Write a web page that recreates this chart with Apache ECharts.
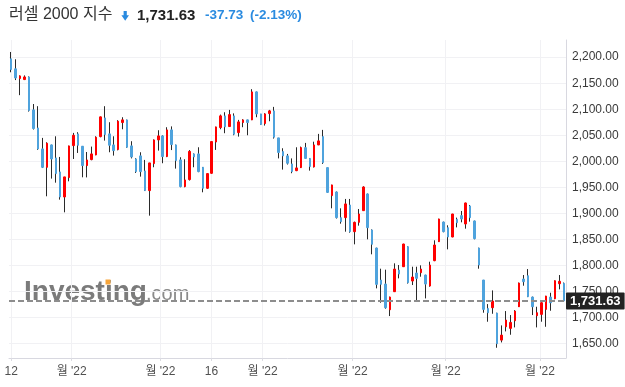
<!DOCTYPE html>
<html>
<head>
<meta charset="utf-8">
<script src="https://cdn.jsdelivr.net/npm/echarts@6/dist/echarts.min.js"></script>
<style>html,body{margin:0;padding:0;background:#fff}#c{width:625px;height:387px}</style>
</head>
<body>
<div id="c"></div>
<script>
const openVals = [2196.8,2177.6,2159,2157,2162,2098.7,2064,2023.7,1988.4,2031.4,
2006.4,1979.5,1931.4,1968.6,2030.1,2052.6,2028.9,1991.7,2003.2,2012.2,
2047.4,2083.3,2052.6,2031.4,2022.4,2074.4,2079.5,2029.5,2004.5,2010.3,
1981.4,1943.6,1995.5,2041,2048.7,2009,2060.3,2031.4,2002.6,1951.3,
1964.8,2014.1,2014.1,1988.5,1948.1,1976.9,2037,2064.7,2087.2,2066.7,
2087.2,2055.1,2074.4,2079.5,2079.5,2133.3,2091,2072.4,2091.6,2096.8,
2044.9,2018.6,2010.3,1994.9,1982,1987.8,2026.1,2005.5,1989.1,2031.4,
2047.4,1987.8,1934,1941,1891.7,1891.7,1916,1864.7,1882.7,1905.1,
1937.2,1868,1833.3,1771.8,1764.1,1714.7,1749.4,1791,1797.4,1835.9,
1769.9,1785.3,1785.9,1781.4,1760.3,1809,1845.5,1883.3,1872.4,1854.5,
1888.5,1895.5,1879.5,1914.1,1885.3,1833.3,1771.8,1717.3,1718.6,1708.3,
1656.4,1682,1678.9,1693.6,1720.5,1773.7,1780.1,1739.1,1703.2,1705.8,
1715.4,1739.1,1735.9,1764.7,1765.4];
const closeVals = [2176.3,2160,2164,2162,2097.4,2062.8,2023.7,1988.4,2034.6,2004.4,
1976.3,1931.4,1969.9,2029.5,2050,2030.7,1991.7,2002.5,2014.1,2046.2,
2085.3,2051.3,2030.8,2020.5,2077,2079.5,2026.9,2008.3,1980.1,1980.1,
1943.6,1996.8,2041,2048.7,2009,2060.3,2032.1,2001.3,1951.3,1964.1,
2019,2008.3,1980.1,1948.1,1976.3,2037.9,2066,2087.2,2066,2089.7,
2051.9,2075.6,2079.5,2074.4,2133.3,2091,2070.5,2091,2096.8,2046.2,
2016.9,2010.3,1996.2,1980.1,1987.2,2026.3,2005.5,1989.8,2031.4,2039.1,
1997.4,1940.2,1954.5,1891.7,1884,1918,1864.7,1882.7,1898.7,1950.6,
1872.4,1840.4,1763.5,1763.5,1718.6,1739.1,1792.9,1783.3,1841,1766.7,
1777.6,1775,1792.9,1764.1,1800.6,1839.1,1889.1,1864.7,1854.5,1898.7,
1882,1889.1,1919.9,1891.7,1851.3,1800.6,1715.4,1709,1731.4,1649.4,
1666,1694.9,1690.4,1712.2,1766,1768.6,1739.8,1720.5,1709,1728.2,
1741,1728.2,1770.5,1769.36,1731.63];
const lowVals = [2171,2156,2127,2156,2095.5,2061,2022,1987,1932.7,1966.7,
1958.9,1926.3,1901.9,1961.5,2004.4,2016,1969.2,1969,2001.9,2011.5,
2046,2039.7,2017.3,2010.9,2021,2061.5,2026,2005.5,1977.6,1970.5,
1943,1895.5,1988.5,2020.5,1996.2,2008,2021.5,1985.9,1950,1950,
1963,1988.5,1979,1940.4,1947,1976,2021.8,2061.5,2053.9,2066,
2050,2047.4,2065.4,2050,2079,2084.6,2070,2068.6,2076.9,2043.6,
2005.5,1984,1993.7,1977,1981,1987,2005,1982,1988,2031,
1994.9,1939,1909.6,1890,1880.1,1864.7,1862.8,1840.4,1876.3,1905,
1850,1821.2,1755.8,1728.2,1716.7,1702.6,1749,1775,1797,1765,
1762.2,1733.3,1778.2,1736.5,1759,1808,1845,1863.5,1830.8,1854,
1873,1882.7,1870.5,1884,1850,1793.6,1709,1691.7,1707,1641.7,
1651.9,1673.1,1666.7,1680.8,1720,1760.9,1739,1704.5,1680.8,1691.7,
1682,1712.8,1735,1753.9,1731];
const highVals = [2210,2196,2165,2165,2163,2110,2105.8,2044.9,2036.5,2032,
2048,2008.3,1970,2030,2054.5,2055.8,2029,2017.8,2028.2,2048,
2086,2105.8,2075,2048,2079,2084.6,2080,2038.5,2005.8,2017.3,
2002.6,1997,2042,2059.6,2050,2065.4,2067,2032,2007.7,2003.9,
2021.5,2015,2026.9,1989,1977,2038.5,2066.5,2089.7,2094.2,2098.7,
2092,2079.5,2080.8,2080,2138.5,2134,2091,2092.3,2098.7,2104.5,
2045,2025,2014.1,2005.5,2026.9,2028.2,2035.3,2006,2037.6,2052.6,
2060.3,1988,1955,1942,1909.6,1927.6,1927.6,1884,1908.3,1952,
1938,1869,1834,1793.6,1791.7,1740,1803.9,1800.6,1841.5,1836.5,
1797.4,1797.4,1800,1782,1807,1848.1,1889.7,1884,1877,1899,
1891.7,1904.5,1920.5,1916,1886,1834,1772,1725.6,1751.9,1709,
1684.6,1712.2,1704.5,1714,1767,1781.4,1792.9,1740,1720.5,1729,
1741.5,1747.4,1771,1781.4,1767];
const categories = closeVals.map((_, i) => 'D' + (i + 1));
const yTicks = [1650, 1700, 1750, 1800, 1850, 1900, 1950, 2000, 2050, 2100, 2150, 2200];
const xTickPos = [0, 13.57, 33.48, 44.94, 56.4, 76.6, 97.5, 118.65];
const xTickLabels = ['12', "월 '22", "월 '22", '16', "월 '22", "월 '22", "월 '22", "월 '22"];
const titleText = '러셀 2000 지수';
const lastPrice = 1731.63;
const changeVal = -37.73;
const changePct = -2.13;

const UP = '#ff0000', DOWN = '#4fa3dd', WICK = '#2a2a2a', BLUE_TXT = '#2a8be0';
const LATIN = '"Liberation Sans", Arial, "Noto Sans CJK KR", sans-serif';
const fmt = v => v.toLocaleString('en-US', {minimumFractionDigits: 2, maximumFractionDigits: 2});

const fullData = openVals.map((o, i) => [o, closeVals[i], lowVals[i], highVals[i]]);
const bodyData = openVals.map((o, i) => [o, closeVals[i], Math.min(o, closeVals[i]), Math.max(o, closeVals[i])]);

const chart = echarts.init(document.getElementById('c'), null, {renderer: 'canvas'});
chart.setOption({
  animation: false,
  backgroundColor: '#ffffff',
  textStyle: {fontFamily: LATIN},
  grid: {left: 9, right: 59, top: 40, bottom: 29, containLabel: false},
  xAxis: [
    {type: 'category', data: categories, position: 'top', show: false, boundaryGap: true},
    {type: 'value', min: -0.5, max: 124.5, position: 'bottom',
      axisLine: {show: true, onZero: false, lineStyle: {color: '#d8d8e0', width: 1}},
      axisTick: {show: true, customValues: xTickPos, length: 3, lineStyle: {color: '#dcdce2'}},
      axisLabel: {customValues: xTickPos, color: '#505050', fontSize: 12, margin: 8,
        fontFamily: LATIN,
        formatter: v => { const i = xTickPos.findIndex(p => Math.abs(p - v) < 1e-6); return i >= 0 ? xTickLabels[i] : ''; }},
      splitLine: {show: true, lineStyle: {color: '#f1f1f4', width: 1}}
    }
  ],
  yAxis: {
    type: 'value', position: 'right', min: 1622, max: 2233, scale: true,
    axisLine: {show: true, onZero: false, lineStyle: {color: '#d8d8e0', width: 1}},
    axisTick: {show: false, customValues: yTicks},
    axisLabel: {customValues: yTicks, color: '#3a3a3a', fontSize: 12, margin: 6, fontFamily: LATIN,
      formatter: v => fmt(v)},
    splitLine: {show: true, lineStyle: {color: '#f1f1f4', width: 1}}
  },
  graphic: [
    {type: 'text', z: 10, style: {x: 9, y: 15, text: titleText, fill: '#333333', verticalAlign: 'middle',
      font: '16px "Liberation Sans", "Noto Sans CJK KR", sans-serif'}},
    {type: 'polygon', z: 10, shape: {points: [[123.6, 11], [126.8, 11], [126.8, 15.2], [129, 15.2], [125.2, 20.8], [121.4, 15.2], [123.6, 15.2]]},
      style: {fill: BLUE_TXT}},
    {type: 'text', z: 10, style: {x: 137, y: 15.5, text: fmt(lastPrice), fill: '#222222', verticalAlign: 'middle',
      font: 'bold 15px ' + LATIN}},
    {type: 'text', z: 10, style: {x: 205, y: 15.5, text: changeVal.toFixed(2), fill: BLUE_TXT, verticalAlign: 'middle',
      font: 'bold 13.5px ' + LATIN}},
    {type: 'text', z: 10, style: {x: 250, y: 15.5, text: '(' + changePct.toFixed(2) + '%)', fill: BLUE_TXT, verticalAlign: 'middle',
      font: 'bold 13.5px ' + LATIN}},
    {type: 'text', z: 0, style: {x: 24, y: 292, text: 'Investing', fill: '#7b7b7b', verticalAlign: 'middle',
      font: 'bold 28px ' + LATIN}},
    {type: 'rect', z: 1, shape: {x: 105.5, y: 279.5, width: 5, height: 5}, style: {fill: '#f7a53a'}},
    {type: 'text', z: 0, style: {x: 146, y: 294.5, text: '.com', fill: '#8a8a8a', verticalAlign: 'middle',
      font: '20px ' + LATIN}}
  ],
  series: [
    {type: 'candlestick', name: 'wick', xAxisIndex: 0, yAxisIndex: 0, data: fullData, barWidth: 1,
      itemStyle: {color: WICK, color0: WICK, borderColor: WICK, borderColor0: WICK, borderWidth: 1},
      z: 2, silent: true},
    {type: 'candlestick', name: 'body', xAxisIndex: 0, yAxisIndex: 0, data: bodyData, barWidth: 2,
      itemStyle: {color: UP, color0: DOWN, borderColor: UP, borderColor0: DOWN, borderWidth: 1},
      z: 3, silent: true,
      markLine: {
        silent: true, symbol: 'none', animation: false,
        lineStyle: {color: '#8d8d8d', type: [6, 3], width: 2},
        label: {show: true, position: 'end', distance: 0, formatter: () => fmt(lastPrice),
          backgroundColor: '#222222', color: '#ffffff', fontWeight: 'bold', fontSize: 13,
          fontFamily: LATIN, padding: [2, 4, 2, 4], borderRadius: 1},
        data: [{yAxis: lastPrice}]
      }}
  ]
});
</script>
</body>
</html>
